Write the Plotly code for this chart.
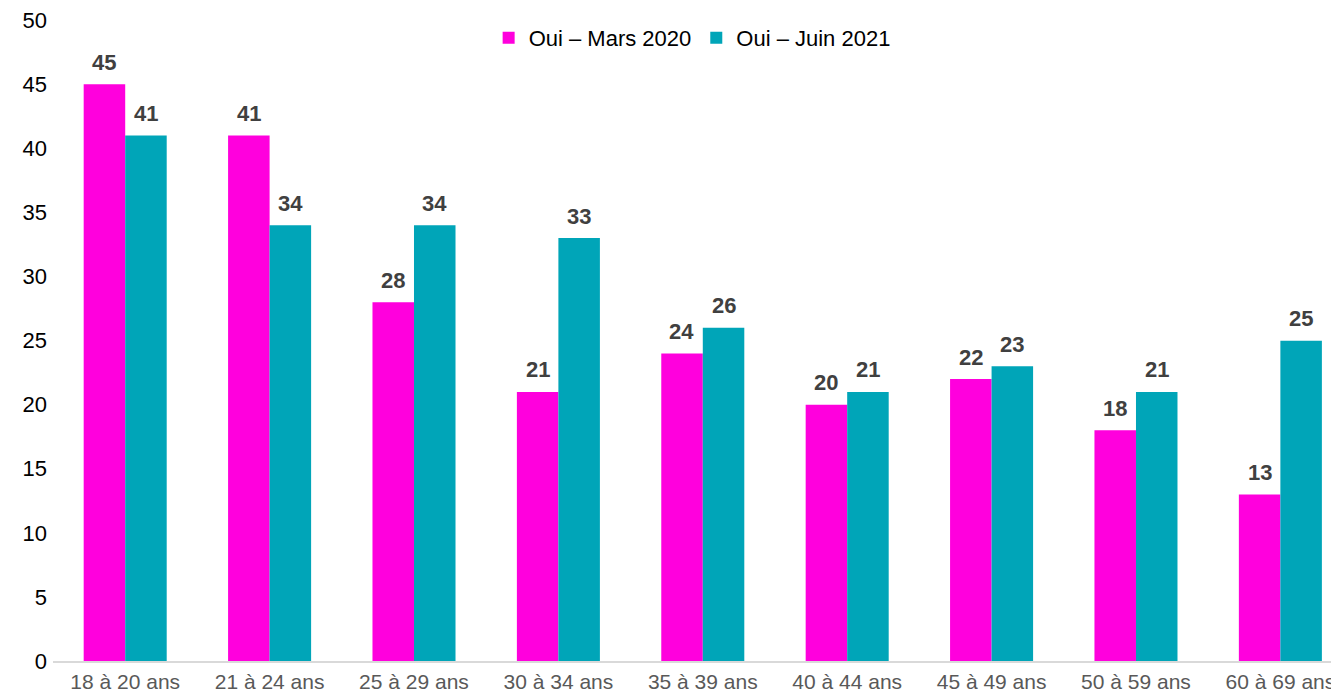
import plotly.graph_objects as go

categories = ["18 à 20 ans", "21 à 24 ans", "25 à 29 ans", "30 à 34 ans", "35 à 39 ans",
              "40 à 44 ans", "45 à 49 ans", "50 à 59 ans", "60 à 69 ans"]
mars_2020 = [45, 41, 28, 21, 24, 20, 22, 18, 13]
juin_2021 = [41, 34, 34, 33, 26, 21, 23, 21, 25]
series_names = ["Oui – Mars 2020", "Oui – Juin 2021"]
colors = ["#FF00DD", "#00A5B8"]
y_ticks = list(range(0, 55, 5))

FONT = "Liberation Sans, Arial, Helvetica, sans-serif"
FS = 22

fig = go.Figure()
for name, vals, col in zip(series_names, [mars_2020, juin_2021], colors):
    fig.add_trace(go.Bar(x=categories, y=vals, name=name, marker=dict(color=col, line=dict(width=0))))

annotations = []
for i, (vals, shift) in enumerate([(mars_2020, -20.8), (juin_2021, 20.8)]):
    for c, v in zip(categories, vals):
        annotations.append(dict(x=c, y=v, xref="x", yref="y", text=f"<b>{v}</b>", showarrow=False,
                                xshift=shift, yshift=22, font=dict(family=FONT, size=FS, color="#404040")))

fig.update_layout(
    width=1331, height=686,
    margin=dict(l=45, r=0, t=12, b=33),
    paper_bgcolor="white", plot_bgcolor="white",
    barmode="group", bargap=0.425, bargroupgap=0,
    font=dict(family=FONT, size=FS, color="#000000"),
    legend=dict(orientation="h", x=0.497, xanchor="center", y=0.972, yanchor="middle",
                font=dict(family=FONT, size=FS, color="#000000"), bgcolor="rgba(0,0,0,0)",
                itemwidth=30, tracegroupgap=0),
    annotations=annotations,
    xaxis=dict(range=[-0.5, 8.406], showline=True, linecolor="#D9D9D9", linewidth=1.5,
               showgrid=False, ticks="", ticklabelstandoff=1, ticklabeloverflow="allow",
               tickfont=dict(family=FONT, size=21, color="#595959")),
    yaxis=dict(range=[0, 50.02], tickvals=y_ticks, showgrid=False, zeroline=False, showline=False,
               ticks="", ticklabelstandoff=5, ticklabeloverflow="allow",
               tickfont=dict(family=FONT, size=FS, color="#000000")),
)

fig.write_html("out.html")
